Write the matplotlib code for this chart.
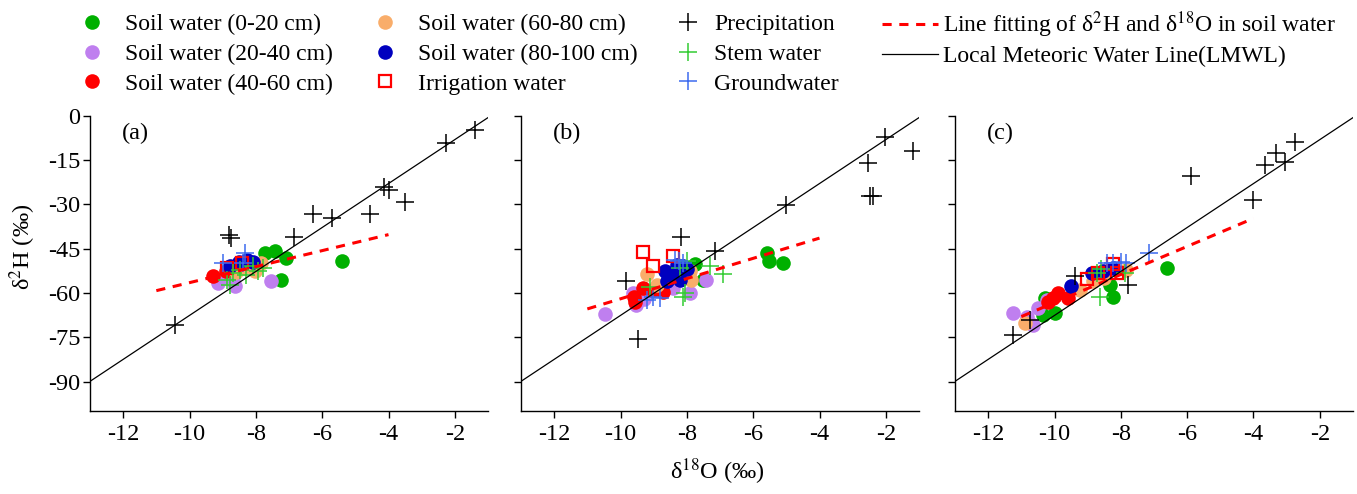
import matplotlib
matplotlib.use("Agg")
import matplotlib.pyplot as plt
import numpy as np

plt.rcParams['font.family'] = ['Liberation Serif', 'DejaVu Serif']
plt.rcParams['mathtext.fontset'] = 'stix'
plt.rcParams['axes.unicode_minus'] = False

# ---------------- data (δ18O, δ2H) ----------------
a_soil_0_20 = [(-7.73, -46.3), (-7.43, -45.6), (-7.10, -48.2), (-5.40, -49.3), (-7.25, -55.7)]
a_soil_20_40 = [(-9.13, -56.5), (-8.63, -57.6), (-7.53, -56.1), (-8.90, -55.0), (-8.70, -56.0)]
a_soil_40_60 = [(-9.29, -54.4), (-8.90, -52.5), (-8.50, -50.5), (-8.20, -49.8)]
a_soil_60_80 = [(-7.83, -49.9), (-8.03, -52.7), (-8.40, -51.5), (-8.60, -53.0)]
a_soil_80_100 = [(-8.28, -48.8), (-8.78, -51.0), (-8.50, -49.5), (-8.10, -49.5)]
a_irrigation = [(-8.88, -51.6), (-8.43, -49.9)]
a_precip = [(-10.44, -71.0), (-8.80, -40.5), (-8.75, -41.5), (-6.86, -41.1), (-6.27, -33.2),
            (-5.70, -34.7), (-4.57, -33.2), (-4.15, -24.0), (-4.00, -25.0), (-3.51, -29.0),
            (-2.28, -9.3), (-1.40, -4.7)]
a_stem = [(-8.88, -55.6), (-8.68, -53.3), (-8.48, -52.2), (-8.08, -51.0), (-7.93, -52.7),
          (-8.78, -57.2), (-7.78, -51.6), (-8.30, -54.0)]
a_ground = [(-9.00, -49.9), (-8.33, -46.5), (-8.38, -49.9)]

b_soil_0_20 = [(-5.57, -46.5), (-5.52, -49.0), (-5.10, -49.9), (-7.76, -50.1), (-7.51, -55.6), (-8.00, -51.5)]
b_soil_20_40 = [(-10.47, -67.2), (-9.62, -60.1), (-9.52, -64.0), (-8.41, -58.4), (-7.89, -60.1),
                (-7.42, -55.6), (-9.30, -62.0)]
b_soil_40_60 = [(-9.57, -62.9), (-9.32, -58.4), (-9.02, -58.9), (-8.71, -59.5), (-9.60, -61.5)]
b_soil_60_80 = [(-9.21, -53.5), (-8.91, -57.3), (-7.86, -55.6), (-7.90, -52.5)]
b_soil_80_100 = [(-8.66, -52.7), (-8.41, -54.4), (-8.11, -51.0), (-8.21, -55.6), (-8.61, -56.1),
                 (-8.30, -50.5), (-8.00, -52.0)]
b_irrigation = [(-9.32, -46.0), (-9.02, -51.0), (-8.41, -47.6)]
b_precip = [(-9.84, -55.9), (-9.47, -75.6), (-8.19, -41.1), (-7.16, -45.6), (-5.00, -30.3),
            (-2.54, -16.0), (-2.49, -27.0), (-2.39, -27.0), (-2.04, -7.2), (-1.18, -11.7)]
b_stem = [(-7.31, -51.0), (-6.91, -53.5), (-8.06, -60.1), (-8.11, -61.2), (-9.11, -57.8),
          (-7.99, -49.3), (-8.20, -51.5)]
b_ground = [(-9.21, -62.3), (-9.02, -61.2), (-8.81, -61.8), (-8.36, -48.8), (-8.11, -49.9), (-8.25, -49.0)]

c_soil_0_20 = [(-6.62, -51.6), (-8.33, -57.2), (-8.25, -61.2), (-10.29, -61.8), (-10.34, -67.4), (-9.99, -66.8)]
c_soil_20_40 = [(-11.24, -66.8), (-10.84, -68.0), (-10.49, -65.1), (-10.64, -70.8), (-10.24, -62.3)]
c_soil_40_60 = [(-10.19, -62.9), (-10.04, -61.8), (-9.89, -60.1), (-9.59, -61.8)]
c_soil_60_80 = [(-10.89, -70.2), (-9.23, -58.9), (-8.83, -56.1), (-7.83, -52.2), (-8.50, -55.0)]
c_soil_80_100 = [(-9.49, -57.6), (-8.88, -53.1), (-8.53, -52.7), (-8.23, -51.6)]
c_irrigation = [(-9.03, -55.2), (-8.68, -53.3), (-8.23, -50.1), (-8.11, -53.3)]
c_precip = [(-11.24, -74.2), (-10.74, -69.1), (-9.39, -54.4), (-7.78, -57.2), (-5.87, -20.3),
            (-4.01, -28.5), (-3.66, -16.6), (-3.31, -12.6), (-3.06, -15.5), (-2.76, -8.7)]
c_stem = [(-8.63, -61.2), (-8.73, -53.3), (-7.88, -53.3), (-8.60, -52.0)]
c_ground = [(-7.15, -46.3), (-8.43, -49.9), (-8.23, -49.9), (-7.98, -49.5), (-7.83, -49.9)]

# soil-water fit lines: slope, intercept, x-range
fit_a = (2.714, -29.35)
fit_b = (3.43, -27.67)
fit_c = (4.757, -15.67)
fit_range = [-11.0, -4.0]
# local meteoric water line
lmwl = (7.45, 6.9)
lmwl_range = [-13.0, -1.0]

panel_labels = ['(a)', '(b)', '(c)']
x_ticks = [-12, -10, -8, -6, -4, -2]
y_ticks = [0, -15, -30, -45, -60, -75, -90]

legend_labels = ['Soil water (0-20 cm)', 'Soil water (20-40 cm)', 'Soil water (40-60 cm)',
                 'Soil water (60-80 cm)', 'Soil water (80-100 cm)', 'Irrigation water',
                 'Precipitation', 'Stem water', 'Groundwater',
                 r'Line fitting of δ$^{2}$H and δ$^{18}$O in soil water',
                 'Local Meteoric Water Line(LMWL)']

# ---------------- styles ----------------
C_G = '#00B000'
C_P = '#BF7FEF'
C_R = '#FF0000'
C_O = '#F9AD6A'
C_B = '#0000BF'
C_STEM = '#33CC33'
C_GW = '#3D6BEF'
MS_DOT = 10.5
MS_PLUS = 13
MS_SQ = 8.5

W, H = 1357, 494
fig = plt.figure(figsize=(W / 100, H / 100), dpi=100)

lefts = [90, 521, 955]
panels = [
    (a_soil_0_20, a_soil_20_40, a_soil_40_60, a_soil_60_80, a_soil_80_100, a_irrigation, a_precip, a_stem, a_ground, fit_a),
    (b_soil_0_20, b_soil_20_40, b_soil_40_60, b_soil_60_80, b_soil_80_100, b_irrigation, b_precip, b_stem, b_ground, fit_b),
    (c_soil_0_20, c_soil_20_40, c_soil_40_60, c_soil_60_80, c_soil_80_100, c_irrigation, c_precip, c_stem, c_ground, fit_c),
]


def xy(pts):
    arr = np.array(pts)
    return arr[:, 0], arr[:, 1]


handles = None
for i, (left, data) in enumerate(zip(lefts, panels)):
    s1, s2, s3, s4, s5, irr, pre, stem, gw, fit = data
    ax = fig.add_axes([left / W, (H - 411) / H, 398 / W, 295 / H])
    hs = []
    for pts, col in [(s1, C_G), (s2, C_P), (s3, C_R), (s4, C_O), (s5, C_B)]:
        x, y = xy(pts)
        h, = ax.plot(x, y, 'o', ms=MS_DOT, color=col, mec='none', zorder=2)
        hs.append(h)
    x, y = xy(irr)
    h, = ax.plot(x, y, 's', ms=MS_SQ, mfc='none', mec=C_R, mew=1.6, zorder=3)
    hs.append(h)
    for pts, col in [(pre, 'black'), (stem, C_STEM), (gw, C_GW)]:
        x, y = xy(pts)
        h, = ax.plot(x, y, '+', ms=MS_PLUS, color=col, mew=1.1, zorder=4)
        hs.append(h)
    fx = np.array(fit_range)
    h, = ax.plot(fx, fit[0] * fx + fit[1], '--', color=C_R, lw=2.2, dashes=(3, 2.5), zorder=5)
    hs.append(h)
    lx = np.array(lmwl_range)
    h, = ax.plot(lx, lmwl[0] * lx + lmwl[1], '-', color='black', lw=0.9, zorder=5)
    hs.append(h)
    if handles is None:
        handles = hs

    ax.set_xlim(-13, -1)
    ax.set_ylim(-100, 0)
    ax.set_xticks(x_ticks)
    ax.set_yticks(y_ticks)
    ax.spines['top'].set_visible(False)
    ax.spines['right'].set_visible(False)
    for sp in ['left', 'bottom']:
        ax.spines[sp].set_linewidth(1.0)
    ax.tick_params(direction='out', length=5, width=1.0, labelsize=17.5, pad=2)
    ax.tick_params(axis='x', pad=4)
    if i > 0:
        ax.set_yticklabels([])
    ax.text(-12.05, -5.8, panel_labels[i], fontsize=17.5, ha='left', va='center')

fig.text(23 / W, 1 - 247 / H, r'δ$^{2}$H (‰)', rotation=90, fontsize=17.5, ha='center', va='center')
fig.text(717 / W, 1 - 472 / H, r'δ$^{18}$O (‰)', fontsize=17.5, ha='center', va='center')

# legend columns: (left px, top px, handle length, label spacing, entry range)
legend_cols = [
    (64, 13.5, 2.37, 0.35, (0, 3)),
    (357, 13.5, 2.37, 0.35, (3, 6)),
    (667, 13.5, 1.78, 0.35, (6, 9)),
    (882, 9.5, 2.37, 0.23, (9, 11)),
]
for cx, top, hl, ls, (s, e) in legend_cols:
    fig.legend(handles[s:e], legend_labels[s:e], loc='upper left',
               bbox_to_anchor=(cx / W, 1 - top / H), frameon=False, fontsize=17,
               handlelength=hl, handletextpad=0.22, labelspacing=ls,
               borderpad=0, borderaxespad=0)

fig.savefig('out.png', dpi=100)
